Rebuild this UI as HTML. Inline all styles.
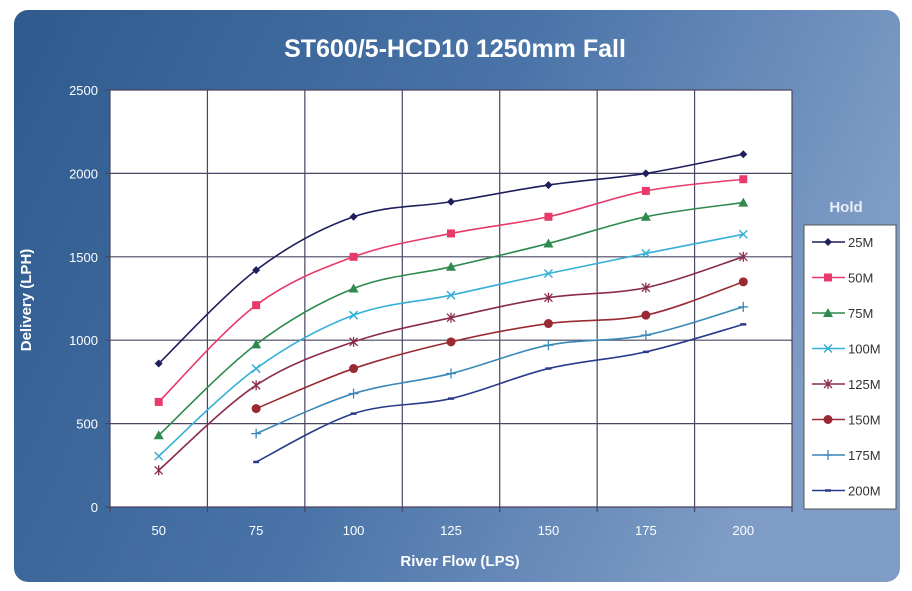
<!DOCTYPE html>
<html><head><meta charset="utf-8"><style>
html,body{margin:0;padding:0;background:#fff;width:912px;height:591px;overflow:hidden}
text{font-family:"Liberation Sans",sans-serif}
</style></head><body>
<svg id="s" width="912" height="591" xmlns="http://www.w3.org/2000/svg">
<defs>
<linearGradient id="bg" x1="0" y1="0" x2="1" y2="0.3">
<stop offset="0" stop-color="#2e5a8e"/><stop offset="0.55" stop-color="#4a74a8"/><stop offset="1" stop-color="#7f9cc6"/>
</linearGradient>
</defs>
<rect x="14" y="10" width="886" height="572" rx="14" fill="url(#bg)"/>
<rect x="110" y="90" width="682" height="417" fill="#fff"/>
<text x="455" y="57" text-anchor="middle" font-size="25" font-weight="bold" fill="#fff">ST600/5-HCD10  1250mm Fall</text>
<text x="31" y="300" text-anchor="middle" font-size="15" font-weight="bold" fill="#fff" transform="rotate(-90 31 300)">Delivery (LPH)</text>
<text x="460" y="566" text-anchor="middle" font-size="15" font-weight="bold" fill="#fff">River Flow (LPS)</text>
<text x="846" y="212" text-anchor="middle" font-size="15" font-weight="bold" fill="#e8eef8">Hold</text>
<rect x="804" y="225" width="92" height="284" fill="#fff" stroke="#555" stroke-width="1"/>
<g id="g"></g>
</svg>
<script>
const s=document.getElementById('g');let h='';
const L=110,R=792,T=90,B=507,cw=(R-L)/7;
const Y=v=>B-v*(B-T)/2500, X=i=>L+cw*(i+0.5);
for(let k=0;k<=5;k++){const y=Y(k*500);h+=`<line x1="${L-5}" y1="${y}" x2="${R}" y2="${y}" stroke="#4a4560" stroke-width="1.2"/><text x="${L-12}" y="${y+5}" text-anchor="end" font-size="13" fill="#fff">${k*500}</text>`;}
for(let i=0;i<=7;i++){const x=L+cw*i;h+=`<line x1="${x}" y1="${T}" x2="${x}" y2="${B+5}" stroke="#4a4560" stroke-width="1.2"/>`;}
[50,75,100,125,150,175,200].forEach((v,i)=>h+=`<text x="${X(i)}" y="${B+28}" text-anchor="middle" font-size="13" fill="#fff">${v}</text>`);
const S=[["25M","#1f1f5e","d",[860,1420,1740,1830,1930,2000,2115]],
["50M","#e83a6a","s",[630,1210,1500,1640,1740,1895,1965]],
["75M","#2e8a4e","t",[430,975,1310,1440,1580,1740,1825]],
["100M","#36b0d8","x",[305,830,1150,1270,1400,1520,1635]],
["125M","#8a2c4c","a",[220,730,990,1135,1255,1315,1500]],
["150M","#9a2a32","c",[null,590,830,990,1100,1150,1350]],
["175M","#3a88b8","p",[null,440,680,800,970,1030,1200]],
["200M","#2a3a8a","m",[null,270,560,650,830,930,1095]]];
function mk(t,x,y,c){switch(t){case"d":return`<path d="M${x} ${y-4}L${x+4} ${y}L${x} ${y+4}L${x-4} ${y}Z" fill="${c}"/>`;
case"s":return`<rect x="${x-4}" y="${y-4}" width="8" height="8" fill="${c}"/>`;
case"t":return`<path d="M${x} ${y-5}L${x+5} ${y+4}L${x-5} ${y+4}Z" fill="${c}"/>`;
case"x":return`<path d="M${x-4} ${y-4}L${x+4} ${y+4}M${x+4} ${y-4}L${x-4} ${y+4}" stroke="${c}" stroke-width="1.5"/>`;
case"a":return`<path d="M${x-4} ${y-4}L${x+4} ${y+4}M${x+4} ${y-4}L${x-4} ${y+4}M${x} ${y-5}V${y+5}" stroke="${c}" stroke-width="1.3"/>`;
case"c":return`<circle cx="${x}" cy="${y}" r="4.5" fill="${c}"/>`;
case"p":return`<path d="M${x-5} ${y}H${x+5}M${x} ${y-5}V${y+5}" stroke="${c}" stroke-width="1.3"/>`;
case"m":return`<path d="M${x-3} ${y}H${x+3}" stroke="${c}" stroke-width="2.5"/>`;}}
S.forEach((se,j)=>{const [n,c,t,d]=se;const p=[];d.forEach((v,i)=>{if(v!=null)p.push([X(i),Y(v)])});
let path=`M${p[0][0]} ${p[0][1]}`;
for(let i=0;i<p.length-1;i++){const p0=p[i-1]||p[i],p1=p[i],p2=p[i+1],p3=p[i+2]||p2;const k=1/6;
path+=`C${p1[0]+(p2[0]-p0[0])*k} ${p1[1]+(p2[1]-p0[1])*k} ${p2[0]-(p3[0]-p1[0])*k} ${p2[1]-(p3[1]-p1[1])*k} ${p2[0]} ${p2[1]}`;}
h+=`<path d="${path}" fill="none" stroke="${c}" stroke-width="1.6"/>`;
p.forEach(q=>h+=mk(t,q[0],q[1],c));
const ly=242+j*35.5;h+=`<line x1="812" y1="${ly}" x2="845" y2="${ly}" stroke="${c}" stroke-width="1.6"/>`+mk(t,828,ly,c)+`<text x="848" y="${ly+5}" font-size="13" fill="#333">${n}</text>`;});
s.innerHTML=h;
</script>
</body></html>
